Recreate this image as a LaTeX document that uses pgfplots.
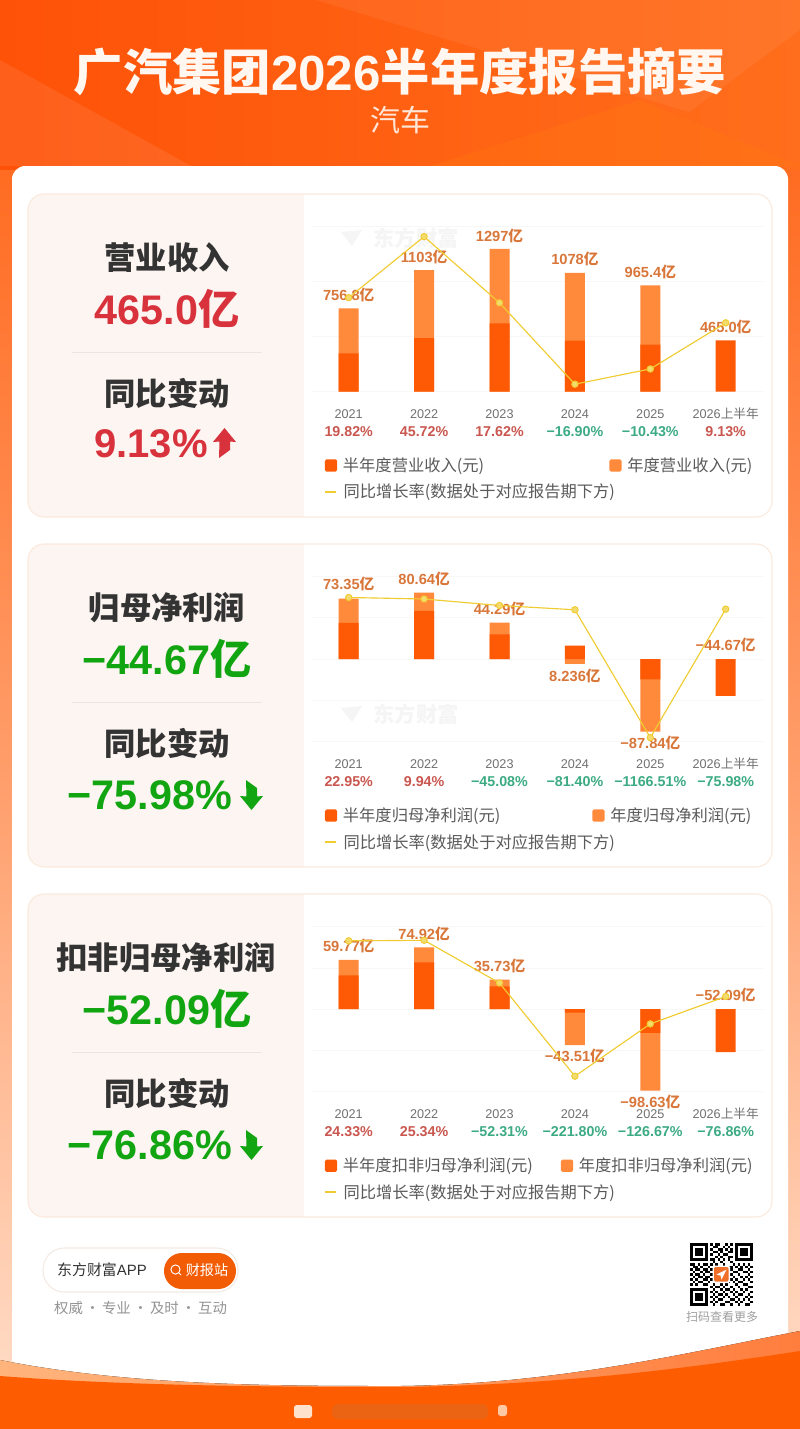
\documentclass[border=0pt]{standalone}
\usepackage{fontspec}
\usepackage{pgfplots}
\pgfplotsset{compat=1.18}
\setmainfont{Liberation Sans}
\newfontfamily\cjk{Noto Sans CJK SC}
\newcommand\zh[1]{{\cjk #1}}
\newcommand\yi{{\cjk 亿}}
\newcommand\st{{\cjk\vphantom{上}}}
\newcommand\dc[1]{\definecolor{#1}{HTML}{#1}}
\dc{FE5208}\dc{FF6E1C}\dc{FF6C22}\dc{FFA06E}\dc{FFD9C2}\dc{FF7A10}\dc{FFB47C}\dc{FFF3E6}\dc{FF7E3E}\dc{E2691F}\dc{FFE2CC}\dc{FFC9A3}\dc{FFF7F0}\dc{FFE6D6}\dc{F3EAE5}\dc{F25C05}\dc{F0702A}
\definecolor{half}{HTML}{FE5A05}
\definecolor{annual}{HTML}{FF8A3C}
\definecolor{yline}{HTML}{F0CC30}
\definecolor{lab}{HTML}{D9773A}
\definecolor{gup}{HTML}{C9574F}
\definecolor{gdn}{HTML}{3CAB84}
\definecolor{ytxt}{HTML}{707070}
\definecolor{legt}{HTML}{5A5A5A}
\definecolor{panelb}{HTML}{FBEADC}
\definecolor{panelf}{HTML}{FDF5F2}
\definecolor{dark}{HTML}{333333}
\definecolor{bigred}{HTML}{D8323C}
\definecolor{biggreen}{HTML}{12A512}
\definecolor{bott}{HTML}{FE5C00}
\newcommand\gu[1]{\textcolor{gup}{\fontsize{10.7pt}{13.5pt}\selectfont\bfseries #1}}
\newcommand\gd[1]{\textcolor{gdn}{\fontsize{10.7pt}{13.5pt}\selectfont\bfseries #1}}
\pgfplotsset{
  chart/.style={scale only axis,width=339.3pt,height=123.75pt,xmin=-0.5,xmax=5.5,
    clip=false,axis line style={draw=none},major tick length=0pt,
    xtick={0,1,2,3,4,5},yticklabels={},ymajorgrids,
    grid style={color=black!3,line width=0.6pt},
    xticklabel style={align=center,inner sep=0pt,yshift=-12pt,text=ytxt,
      font=\fontsize{9.5pt}{13.5pt}\selectfont},
    legend cell align=left,legend columns=2},
  overlay axis/.style={scale only axis,width=339.3pt,height=123.75pt,xmin=-0.5,xmax=5.5,hide axis,clip=false},
  annualbar/.style={ybar,bar width=15pt,bar shift=0pt,fill=annual,draw=none,forget plot},
  halfbar/.style={ybar,bar width=15pt,bar shift=0pt,fill=half,draw=none,forget plot},
  labelplot/.style={draw=none,mark=none,forget plot,point meta=explicit symbolic,nodes near coords,
    nodes near coords style={anchor=center,inner sep=0pt,text=lab,font=\fontsize{11pt}{12pt}\selectfont\bfseries}},
  growth/.style={color=yline,line width=0.85pt,mark=*,mark size=2.4pt,
    mark options={fill=yline!70!white,draw=yline,line width=0.7pt},forget plot},
  swatch/.style={legend image code/.code={\path[draw=none,fill=none] (0pt,0pt)--(13.5pt,0pt);\fill[#1,draw=none,rounded corners=1.2pt] (0pt,-4.6pt) rectangle (9.2pt,4.6pt);}},
  lineswatch/.style={legend image code/.code={\path[draw=none,fill=none] (0pt,0pt)--(13.5pt,0pt);\draw[yline,line width=1.2pt] (0pt,0pt)--(8.6pt,0pt);}},
  leg/.style={legend style={draw=none,fill=none,at={(0.0285,-0.399)},anchor=north west,inner sep=0pt,
    row sep=8.1pt,font=\fontsize{12.2pt}{14pt}\selectfont,text=legt,
    nodes={inner sep=0pt},
    /tikz/every even column/.append style={column sep=#1}}},
}
\newcommand\thirdentry{\makebox[0pt][l]{\zh{同比增长率(数据处于对应报告期下方)}}}
\newcommand\uparrowicon[2]{\fill[#2,shift={(#1)}] (0,-17)--(11.5,-3)--(5.5,-3.5)--(5.5,5)--(-5.5,13)--(-5,-3.5)--(-11.5,-3)--cycle;}
\newcommand\downarrowicon[2]{\fill[#2,shift={(#1)}] (0,15)--(11.5,1)--(5.5,1.5)--(5.5,-7)--(-5.5,-15)--(-5,1.5)--(-11.5,1)--cycle;}
\newcommand\panel[1]{%
  \begin{scope}
    \clip[rounded corners=12] (28,#1) rectangle (772,#1+323);
    \fill[panelf] (28,#1) rectangle (304,#1+323);
  \end{scope}
  \draw[panelb,line width=0.8pt,rounded corners=12] (28,#1) rectangle (772,#1+323);
  \draw[black!7!panelf,line width=0.7pt] (72,#1+158.5) -- (262,#1+158.5);
}
\newcommand\bigtxt[4]{\node[text=#2,inner sep=0pt,font=\fontsize{#3}{#3}\selectfont\bfseries] at (#1) {#4};}
\begin{document}
\begin{tikzpicture}[x=0.75pt,y=-0.75pt]
\path[use as bounding box] (0,0) rectangle (800,1429);
% page background
\fill[left color=FE5208,right color=FF6E1C] (0,0) rectangle (800,170);
\fill[top color=FF6C22,bottom color=FFA06E] (0,170) rectangle (800,800);
\fill[top color=FFA06E,bottom color=FFD9C2] (0,800) rectangle (800,1362);
\fill[white,opacity=0.06] (316,0)--(689,112)--(800,30)--(800,0)--cycle;
\fill[white,opacity=0.08] (0,60)--(191,166)--(0,166)--cycle;
\fill[FF7A10,opacity=0.3] (430,166)--(640,100)--(800,166)--cycle;
% card
\fill[white,rounded corners=10] (12,166) rectangle (788,1400);
% wave
\fill[left color=FFB47C,middle color=FFF3E6,right color=FF7E3E] (0,1360) .. controls (130,1386) and (280,1386) .. (400,1386) .. controls (560,1384) and (690,1352) .. (800,1331) -- (800,1429) -- (0,1429) -- cycle;
\fill[bott] (0,1376) .. controls (130,1386) and (280,1387) .. (400,1387) .. controls (560,1385) and (690,1368) .. (800,1351) -- (800,1429) -- (0,1429) -- cycle;
\fill[E2691F,opacity=0.65,rounded corners=4] (332,1404) rectangle (488,1419);
\fill[FFE2CC,rounded corners=2] (294,1405) rectangle (312,1418);
\fill[FFC9A3,rounded corners=2] (498,1405) rectangle (507,1416);
% title
\bigtxt{400,72}{FFF7F0}{37pt}{\zh{广汽集团}2026\zh{半年度报告摘要}}
\node[text=FFE6D6,inner sep=0pt,font=\fontsize{22.5pt}{24pt}\selectfont] at (400,120) {\zh{汽车}};
% panels
\panel{194}\panel{544}\panel{894}
% watermarks
\node[text=black!4,inner sep=0pt,font=\fontsize{16pt}{18pt}\selectfont\bfseries] at (416,238) {\zh{东方财富}};
\node[text=black!4,inner sep=0pt,font=\fontsize{16pt}{18pt}\selectfont\bfseries] at (416,714) {\zh{东方财富}};
\fill[black!4] (341,232)--(362,230)--(352,246)--cycle;
\fill[black!4] (341,708)--(362,706)--(352,722)--cycle;
% left texts
\bigtxt{167,258}{dark}{23.5pt}{\zh{营业收入}}
\bigtxt{167,309}{bigred}{31pt}{465.0\yi}
\bigtxt{167,393}{dark}{23.5pt}{\zh{同比变动}}
\bigtxt{151,444}{bigred}{30pt}{9.13\%}
\uparrowicon{224.5,445}{bigred}
\bigtxt{167,608}{dark}{23.5pt}{\zh{归母净利润}}
\bigtxt{167,659}{biggreen}{31pt}{−44.67\yi}
\bigtxt{167,743}{dark}{23.5pt}{\zh{同比变动}}
\bigtxt{150,795}{biggreen}{31pt}{−75.98\%}
\downarrowicon{251.5,795}{biggreen}
\bigtxt{166,958}{dark}{23.5pt}{\zh{扣非归母净利润}}
\bigtxt{167,1009}{biggreen}{31pt}{−52.09\yi}
\bigtxt{167,1093}{dark}{23.5pt}{\zh{同比变动}}
\bigtxt{150,1145}{biggreen}{31pt}{−76.86\%}
\downarrowicon{251.5,1145}{biggreen}
% ---------- chart 1
\begin{axis}[chart,at={(233.25pt,-293.625pt)},anchor=south west,ymin=0,ymax=1500,ytick={0,500,1000,1500},
  xticklabels={{\st 2021\\\gu{19.82\%}},{\st 2022\\\gu{45.72\%}},{\st 2023\\\gu{17.62\%}},{\st 2024\\\gd{−16.90\%}},{\st 2025\\\gd{−10.43\%}},{\st 2026\zh{上半年}\\\gu{9.13\%}}},
  leg=94pt]
\addplot[annualbar] coordinates {(0,756.8)(1,1103)(2,1297)(3,1078)(4,965.4)};
\addplot[halfbar] coordinates {(0,347)(1,485)(2,619)(3,462)(4,426)(5,465)};
\addplot[labelplot] table[x=x,y=y,meta=l] {
x y l
0 875 756.8\yi
1 1223 1103\yi
2 1416 1297\yi
3 1201 1078\yi
4 1087 965.4\yi
5 585 465.0\yi
};
\addlegendimage{swatch=half}\addlegendentry{\zh{半年度营业收入(元)}}
\addlegendimage{swatch=annual}\addlegendentry{\zh{年度营业收入(元)}}
\addlegendimage{lineswatch}\addlegendentry{\thirdentry}
\end{axis}
\begin{axis}[overlay axis,at={(233.25pt,-293.625pt)},anchor=south west,ymin=-20,ymax=50]
\addplot[growth] coordinates {(0,19.82)(1,45.72)(2,17.62)(3,-16.90)(4,-10.43)(5,9.13)};
\end{axis}
% ---------- chart 2
\begin{axis}[chart,at={(233.25pt,-556.2pt)},anchor=south west,ymin=-100,ymax=100,ytick={-100,-50,0,50,100},
  xticklabels={{\st 2021\\\gu{22.95\%}},{\st 2022\\\gu{9.94\%}},{\st 2023\\\gd{−45.08\%}},{\st 2024\\\gd{−81.40\%}},{\st 2025\\\gd{−1166.51\%}},{\st 2026\zh{上半年}\\\gd{−75.98\%}}},
  leg=69pt]
\addplot[annualbar] coordinates {(0,73.35)(1,80.64)(2,44.29)(3,-5.7)(4,-87.84)};
\addplot[halfbar] coordinates {(0,44)(1,58.5)(2,30)(3,16.4)(4,-24.7)(5,-44.67)};
\addplot[labelplot] table[x=x,y=y,meta=l] {
x y l
0 91 73.35\yi
1 97 80.64\yi
2 61 44.29\yi
3 -20.2 8.236\yi
4 -101.5 −87.84\yi
5 17 −44.67\yi
};
\addlegendimage{swatch=half}\addlegendentry{\zh{半年度归母净利润(元)}}
\addlegendimage{swatch=annual}\addlegendentry{\zh{年度归母净利润(元)}}
\addlegendimage{lineswatch}\addlegendentry{\thirdentry}
\end{axis}
\begin{axis}[overlay axis,at={(233.25pt,-556.2pt)},anchor=south west,ymin=-1200,ymax=200]
\addplot[growth] coordinates {(0,22.95)(1,9.94)(2,-45.08)(3,-81.40)(4,-1166.51)(5,-75.98)};
\end{axis}
% ---------- chart 3
\begin{axis}[chart,at={(233.25pt,-818.775pt)},anchor=south west,ymin=-100,ymax=100,ytick={-100,-50,0,50,100},
  xticklabels={{\st 2021\\\gu{24.33\%}},{\st 2022\\\gu{25.34\%}},{\st 2023\\\gd{−52.31\%}},{\st 2024\\\gd{−221.80\%}},{\st 2025\\\gd{−126.67\%}},{\st 2026\zh{上半年}\\\gd{−76.86\%}}},
  leg=21pt]
\addplot[annualbar] coordinates {(0,59.77)(1,74.92)(2,35.73)(3,-43.51)(4,-98.63)};
\addplot[halfbar] coordinates {(0,41)(1,56.7)(2,27.7)(3,-4)(4,-28.7)(5,-52.09)};
\addplot[labelplot] table[x=x,y=y,meta=l] {
x y l
0 76.7 59.77\yi
1 91.6 74.92\yi
2 52.5 35.73\yi
3 -56.6 −43.51\yi
4 -112 −98.63\yi
5 17 −52.09\yi
};
\addlegendimage{swatch=half}\addlegendentry{\zh{半年度扣非归母净利润(元)}}
\addlegendimage{swatch=annual}\addlegendentry{\zh{年度扣非归母净利润(元)}}
\addlegendimage{lineswatch}\addlegendentry{\thirdentry}
\end{axis}
\begin{axis}[overlay axis,at={(233.25pt,-818.775pt)},anchor=south west,ymin=-250,ymax=50]
\addplot[growth] coordinates {(0,24.33)(1,25.34)(2,-52.31)(3,-221.80)(4,-126.67)(5,-76.86)};
\end{axis}
% footer pill
\draw[F3EAE5,fill=white,line width=0.8pt,rounded corners=16pt] (43,1248) rectangle (238,1292);
\fill[F25C05,rounded corners=13.4pt] (164,1253) rectangle (236,1289);
\node[text=dark,inner sep=0pt,font=\fontsize{11.2pt}{13pt}\selectfont] at (102,1270) {\zh{东方财富}APP};
\node[text=white,inner sep=0pt,font=\fontsize{10.6pt}{13pt}\selectfont] at (207,1270) {\zh{财报站}};
\draw[white,line width=0.7pt] (175.5,1269.5) circle[radius=4.6];
\draw[white,line width=0.7pt] (179,1273) -- (181,1275);
\node[text=black!42,inner sep=0pt,font=\fontsize{10.8pt}{13pt}\selectfont] at (140.5,1308) {\zh{权威\,·\,专业\,·\,及时\,·\,互动}};
% QR code
\begin{scope}[shift={(690,1243)},x=1.875pt,y=-1.875pt]
\foreach \X/\Y in {0/0,18/0,0/18}{
  \draw[black,line width=1.875pt] (\X+0.5,\Y+0.5) rectangle (\X+6.5,\Y+6.5);
  \fill[black] (\X+2,\Y+2) rectangle (\X+5,\Y+5);}
\foreach \r/\cols in {0/{8,10,11,14,16},1/{9,10,13,15},2/{8,11,12,14,16},3/{9,10,12,15,16},4/{8,11,13,14},5/{10,12,15,16},6/{8,9,11,13,15},
 7/{9,12,16},8/{0,1,3,5,6,8,10,13,17,19,21,23},9/{1,2,4,7,9,15,16,18,20,22,24},10/{0,2,3,5,6,8,16,19,20,23},11/{1,4,6,7,17,18,21,22,24},
 12/{0,2,3,5,8,16,19,23},13/{1,3,4,6,7,17,20,22,24},14/{0,2,5,6,8,16,18,21,23},15/{1,3,4,7,15,17,19,20,24},16/{0,2,5,6,9,12,14,18,21,22},
 17/{8,10,11,13,16,19,23,24},18/{9,12,14,15,17,20,22},19/{8,10,13,16,18,21,24},20/{9,11,12,14,17,19,20,23},21/{8,10,13,15,18,22,24},
 22/{9,11,12,16,17,19,21,23},23/{8,10,14,15,18,20,24},24/{9,12,13,16,19,22,23}}{
  \foreach \c in \cols {\fill[black] (\c,\r) rectangle (\c+1,\r+1);}}
\fill[white,rounded corners=1pt] (9,9) rectangle (16,16);
\fill[F0702A,rounded corners=1pt] (9.6,9.6) rectangle (15.4,15.4);
\fill[white] (10.6,12.6)--(14.6,10.6)--(12.6,14.6)--(12.2,13)--cycle;
\end{scope}
\node[text=black!38,inner sep=0pt,font=\fontsize{9pt}{11pt}\selectfont] at (722,1317) {\zh{扫码查看更多}};
\end{tikzpicture}
\end{document}
